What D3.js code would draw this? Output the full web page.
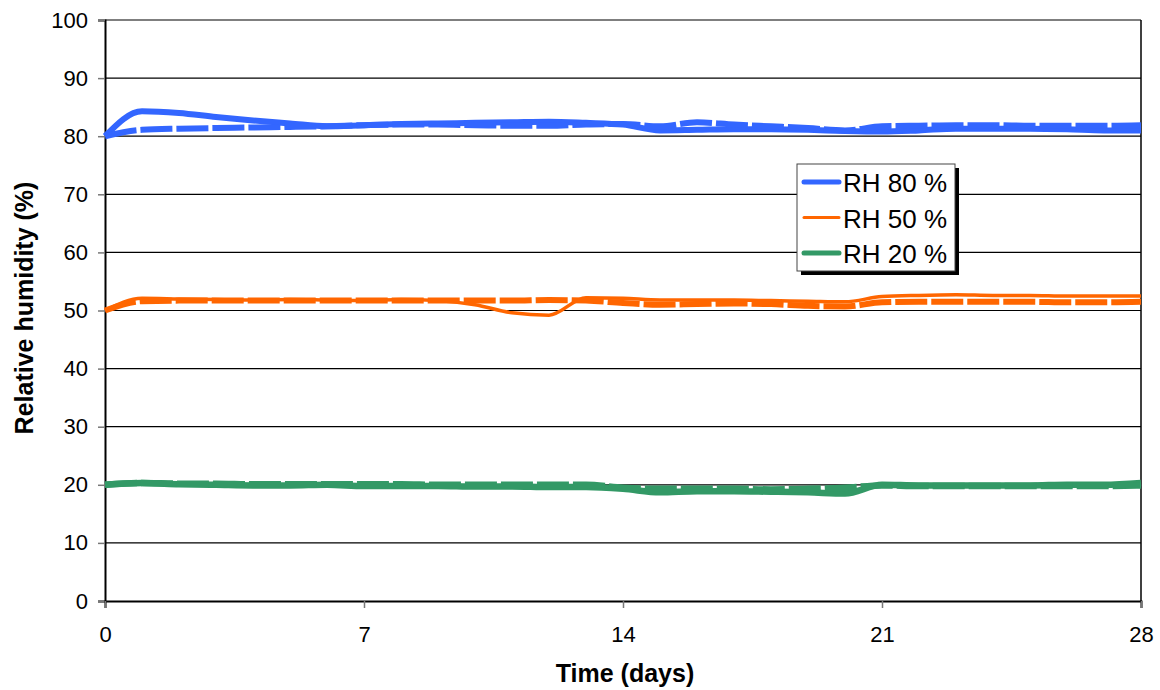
<!DOCTYPE html>
<html>
<head>
<meta charset="utf-8">
<script src="https://cdn.jsdelivr.net/npm/d3@7"></script>
<style>
  html, body { margin: 0; padding: 0; background: #fff; }
  svg { display: block; font-family: "Liberation Sans", Arial, sans-serif; }
</style>
</head>
<body>
<svg id="chart" width="1160" height="690"></svg>
<script>
// ---- data ----
const days = [0,1,2,3,4,5,6,7,8,9,10,11,12,13,14,15,16,17,18,19,20,21,22,23,24,25,26,27,28];
const xTicks = [0, 7, 14, 21, 28];
const yTicks = [0, 10, 20, 30, 40, 50, 60, 70, 80, 90, 100];

const rh80Measured = [80,84.3,84.0,83.3,82.7,82.2,81.7,81.9,82.1,82.2,82.3,82.4,82.5,82.3,82.0,81.0,81.1,81.2,81.2,81.1,80.9,80.8,81.0,81.3,81.3,81.3,81.2,81.0,81.0];
const rh80Target   = [80,81.1,81.3,81.4,81.5,81.6,81.7,81.9,82.0,82.0,81.9,81.8,81.8,82.0,82.1,81.7,82.4,82.0,81.7,81.4,81.0,81.7,81.8,81.9,81.9,81.8,81.8,81.8,81.9];
const rh50Measured = [50,52.1,52.0,51.9,51.8,51.9,51.8,51.7,51.9,51.7,51.0,49.6,49.2,52.2,52.1,51.8,51.8,51.8,51.7,51.6,51.5,52.4,52.6,52.7,52.6,52.6,52.5,52.5,52.5];
const rh50Target   = [50,51.6,51.7,51.7,51.7,51.7,51.7,51.7,51.7,51.7,51.7,51.7,51.8,51.7,51.3,51.0,51.1,51.2,51.1,50.8,50.7,51.4,51.5,51.5,51.5,51.5,51.4,51.4,51.5];
const rh20Measured = [20,20.3,20.1,20.0,19.9,19.9,20.0,19.8,19.8,19.8,19.7,19.7,19.6,19.6,19.3,18.7,18.9,18.9,18.8,18.7,18.5,20.0,19.9,19.9,19.9,19.9,20.0,20.0,20.3];
const rh20Target   = [20,20.3,20.2,20.2,20.1,20.1,20.1,20.1,20.1,20.0,20.0,20.0,20.0,20.0,19.5,19.3,19.3,19.3,19.2,19.3,19.5,19.9,19.8,19.8,19.8,19.8,19.8,19.8,19.9];

const seriesNames = ["RH 80 %", "RH 50 %", "RH 20 %"];
const seriesColors = ["#3366FF", "#FF6600", "#339966"];

// ---- layout ----
const svg = d3.select("#chart");
const pLeft = 105, pRight = 1141, pTop = 20, pBottom = 601;

const x = d3.scaleLinear().domain([0, 28]).range([pLeft, pRight]);
const y = d3.scaleLinear().domain([0, 100]).range([pBottom, pTop]);

// gridlines
svg.append("g").selectAll("line").data(yTicks.filter(d => d > 0)).join("line")
  .attr("x1", pLeft).attr("x2", pRight)
  .attr("y1", d => y(d)).attr("y2", d => y(d))
  .attr("stroke", "#000").attr("stroke-width", 1.2);

// right border
svg.append("line").attr("x1", pRight).attr("x2", pRight).attr("y1", pTop).attr("y2", pBottom)
  .attr("stroke", "#000").attr("stroke-width", 1.5);

// axes
const yAxis = svg.append("g").attr("transform", `translate(${pLeft},0)`)
  .call(d3.axisLeft(y).tickValues(yTicks).tickSize(7).tickPadding(10).tickFormat(d3.format("d")));
const xAxis = svg.append("g").attr("transform", `translate(0,${pBottom})`)
  .call(d3.axisBottom(x).tickValues(xTicks).tickSize(7).tickPadding(18).tickFormat(d3.format("d")));
[yAxis, xAxis].forEach(g => {
  g.select(".domain").attr("stroke", "#000").attr("stroke-width", 2);
  g.selectAll(".tick line").attr("stroke", "#777").attr("stroke-width", 1.5);
  g.selectAll(".tick text").attr("fill", "#000").style("font-size", "22px")
    .style("font-family", "'Liberation Sans', Arial, sans-serif");
});

// axis titles
svg.append("text").attr("x", 625).attr("y", 682)
  .attr("text-anchor", "middle").style("font-size", "25px").style("font-weight", "bold")
  .text("Time (days)");
svg.append("text").attr("transform", `translate(33,308) rotate(-90)`)
  .attr("text-anchor", "middle").style("font-size", "25px").style("font-weight", "bold")
  .text("Relative humidity (%)");

// lines
const line = d3.line().x((d, i) => x(days[i])).y(d => y(d)).curve(d3.curveMonotoneX);
const lines = [
  { v: rh80Measured, c: 0, w: 6, dash: null },
  { v: rh80Target,   c: 0, w: 6, dash: "32,4" },
  { v: rh50Measured, c: 1, w: 3.5, dash: null },
  { v: rh50Target,   c: 1, w: 6, dash: "32,4" },
  { v: rh20Measured, c: 2, w: 6.5, dash: null },
  { v: rh20Target,   c: 2, w: 6.5, dash: "32,4" },
];
svg.append("g").selectAll("path").data(lines).join("path")
  .attr("d", d => line(d.v))
  .attr("fill", "none")
  .attr("stroke", d => seriesColors[d.c])
  .attr("stroke-width", d => d.w)
  .attr("stroke-dasharray", d => d.dash)
  .attr("stroke-linejoin", "round");

// legend
const lg = svg.append("g").attr("transform", "translate(797,164)");
lg.append("rect").attr("x", 4).attr("y", 4).attr("width", 158).attr("height", 107).attr("fill", "#000");
lg.append("rect").attr("x", 0).attr("y", 0).attr("width", 158).attr("height", 107)
  .attr("fill", "#fff").attr("stroke", "#444").attr("stroke-width", 1);
const legendWidths = [5, 3, 5];
seriesNames.forEach((name, i) => {
  const cy = 18 + i * 35.5;
  lg.append("line").attr("x1", 7).attr("x2", 42).attr("y1", cy).attr("y2", cy)
    .attr("stroke", seriesColors[i]).attr("stroke-width", legendWidths[i]).attr("stroke-linecap", "round");
  lg.append("text").attr("x", 46).attr("y", cy + 10).style("font-size", "26px").text(name);
});
</script>
</body>
</html>
